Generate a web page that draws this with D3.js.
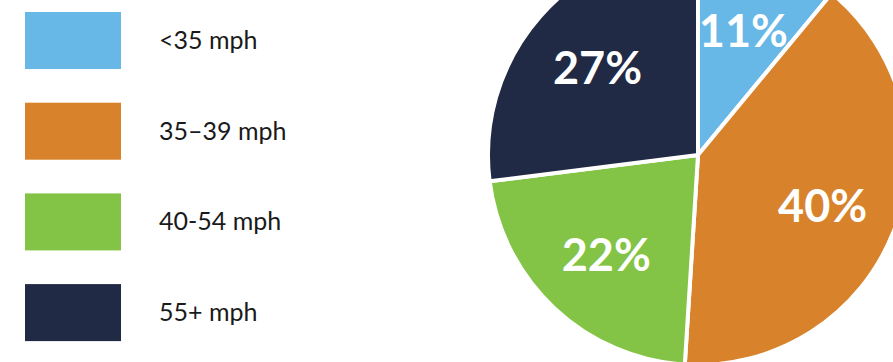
<!DOCTYPE html>
<html>
<head>
<meta charset="utf-8">
<script src="https://cdn.jsdelivr.net/npm/d3@7"></script>
<style>
  body { margin: 0; background: #fff; }
  svg { display: block; }
</style>
</head>
<body>
<div id="chart"></div>
<script>
// speed bands and their share
const categories = ["<35 mph", "35\u201339 mph", "40-54 mph", "55+ mph"];
const shares = [11, 40, 22, 27];
const colors = ["#67b7e7", "#d8832c", "#83c447", "#212a44"];

const width = 893, height = 362;

const svg = d3.select("#chart")
  .append("svg")
  .attr("width", width)
  .attr("height", height);

// legend
const legend = svg.append("g");
const rowY = d3.scaleBand().domain(categories).range([12, 12 + 4 * 90.7]).paddingInner(0);

const rows = legend.selectAll("g")
  .data(categories)
  .enter()
  .append("g")
  .attr("transform", d => `translate(0,${rowY(d)})`);

rows.append("rect")
  .attr("x", 25)
  .attr("y", 0)
  .attr("width", 96)
  .attr("height", 57)
  .attr("fill", (d, i) => colors[i]);

rows.append("text")
  .attr("x", 159)
  .attr("y", 37)
  .attr("font-family", "Lato, sans-serif")
  .attr("font-weight", "400")
  .attr("font-size", "25px")
  .attr("fill", "#1a1a1a")
  .text(d => d);

// pie
const cx = 698, cy = 155, r = 210;
const pie = d3.pie().sort(null).value(d => d);
const arcs = pie(shares);
const arc = d3.arc().innerRadius(0).outerRadius(r);
const labelArc = d3.arc().innerRadius(134).outerRadius(134);

const g = svg.append("g").attr("transform", `translate(${cx},${cy})`);

g.selectAll("path")
  .data(arcs)
  .enter()
  .append("path")
  .attr("d", arc)
  .attr("fill", (d, i) => colors[i])
  .attr("stroke", "#fff")
  .attr("stroke-width", 4)
  .attr("stroke-linejoin", "round");

g.selectAll("text")
  .data(arcs)
  .enter()
  .append("text")
  .attr("transform", d => `translate(${labelArc.centroid(d)})`)
  .attr("text-anchor", "middle")
  .attr("dy", "0.4em")
  .attr("font-family", "Lato, sans-serif")
  .attr("font-weight", "700")
  .attr("font-size", "45px")
  .attr("fill", "#fff")
  .text(d => d.data + "%");
</script>
</body>
</html>
